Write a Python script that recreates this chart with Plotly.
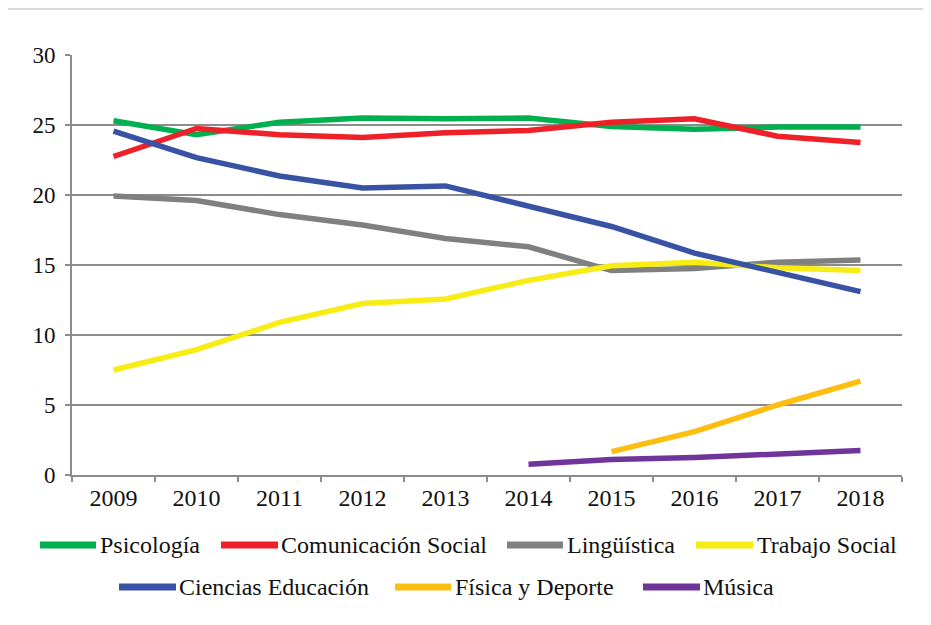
import plotly.graph_objects as go

years = ["2009", "2010", "2011", "2012", "2013", "2014", "2015", "2016", "2017", "2018"]

psicologia = [25.3, 24.3, 25.2, 25.5, 25.45, 25.5, 24.9, 24.7, 24.85, 24.85]
comunicacion = [22.75, 24.75, 24.3, 24.1, 24.45, 24.6, 25.2, 25.45, 24.2, 23.75]
linguistica = [19.93, 19.6, 18.6, 17.86, 16.9, 16.3, 14.6, 14.75, 15.2, 15.35]
trabajo_social = [7.5, 8.95, 10.9, 12.25, 12.57, 13.9, 14.95, 15.2, 14.8, 14.6]
ciencias_educacion = [24.57, 22.67, 21.36, 20.5, 20.65, 19.2, 17.75, 15.85, 14.45, 13.1]
fisica_deporte = [None, None, None, None, None, None, 1.67, 3.1, 5.0, 6.7]
musica = [None, None, None, None, None, 0.76, 1.1, 1.25, 1.5, 1.75]

y_ticks = [0, 5, 10, 15, 20, 25, 30]

series_names = ["Psicología", "Comunicación Social", "Lingüística", "Trabajo Social",
                "Ciencias Educación", "Física y Deporte", "Música"]
series_values = [psicologia, comunicacion, linguistica, trabajo_social,
                 ciencias_educacion, fisica_deporte, musica]
colors = ["#00B04F", "#EE2128", "#808080", "#F7EC13", "#3953A4", "#FDBE10", "#70359A"]

FONT = "'Liberation Serif', 'DejaVu Serif', serif"

fig = go.Figure()
for name, vals, col in zip(series_names, series_values, colors):
    fig.add_trace(go.Scatter(
        x=years, y=vals, name=name, mode="lines",
        line=dict(color=col, width=5.5),
        connectgaps=False, showlegend=False, hoverinfo="x+y+name",
    ))

# page offset (default body margin of the html page)
OFF = 8
PAGE_W, PAGE_H = 931, 625
FIG_W, FIG_H = PAGE_W - OFF, PAGE_H - OFF

# plot area geometry in page pixels
L, R, T, B = 72, 902, 55, 475
W, H = R - L, B - T

def px_x(p):
    return (p - L) / W

def px_y(p):
    return (B - p) / H

shapes = []
annotations = []

# Manual legend layout: (line start, line end, text start, row y) in page pixels
legend_layout = [
    (40, 96, 98, 545),
    (221, 278, 279, 545),
    (507, 563, 565, 545),
    (696, 753, 755, 545),
    (119, 176, 177, 587),
    (395, 451, 453, 587),
    (643, 700, 701, 587),
]
for (x0, x1, xt, yr), name, col in zip(legend_layout, series_names, colors):
    shapes.append(dict(type="line", xref="paper", yref="paper",
                       x0=px_x(x0), x1=px_x(x1), y0=px_y(yr), y1=px_y(yr),
                       line=dict(color=col, width=7)))
    annotations.append(dict(xref="paper", yref="paper", x=px_x(xt), y=px_y(yr),
                            xanchor="left", yanchor="middle", showarrow=False,
                            text=name, font=dict(family=FONT, size=24, color="#111111")))

# outer chart border
shapes.append(dict(type="rect", xref="paper", yref="paper",
                   x0=px_x(6), x1=px_x(960), y0=px_y(9), y1=px_y(660),
                   line=dict(color="#D9D9D9", width=2), fillcolor="rgba(0,0,0,0)",
                   layer="below"))

fig.update_layout(
    width=FIG_W, height=FIG_H,
    margin=dict(l=L - OFF, r=PAGE_W - R, t=T - OFF, b=PAGE_H - B, pad=0),
    paper_bgcolor="white", plot_bgcolor="white",
    font=dict(family=FONT, size=23, color="#111111"),
    shapes=shapes, annotations=annotations,
    showlegend=False,
    xaxis=dict(
        type="category", range=[-0.5, 9.5],
        showgrid=False, showline=True, linecolor="#8C8C8C", linewidth=2,
        ticks="outside", tickson="boundaries", ticklen=5, tickwidth=2, tickcolor="#8C8C8C",
        tickfont=dict(family=FONT, size=24, color="#111111"),
        zeroline=False,
    ),
    yaxis=dict(
        range=[0, 30], tickvals=y_ticks,
        showgrid=True, gridcolor="#8C8C8C", gridwidth=2,
        showline=True, linecolor="#8C8C8C", linewidth=2,
        ticks="outside", ticklen=5, tickwidth=2, tickcolor="#8C8C8C",
        tickfont=dict(family=FONT, size=23, color="#111111"),
        ticklabelstandoff=5,
        zeroline=False,
    ),
)

fig.write_html("out.html")
